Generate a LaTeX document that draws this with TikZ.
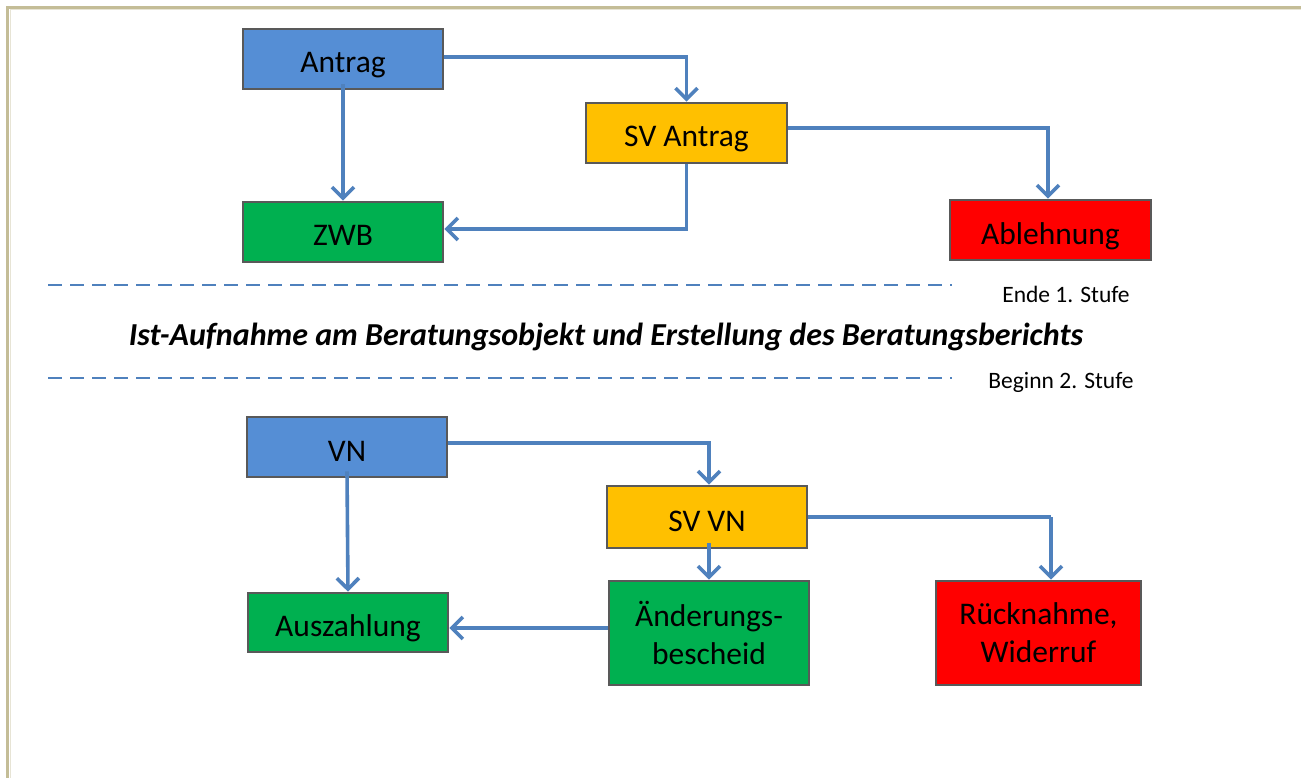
\documentclass[tikz,border=0pt]{standalone}
\usepackage{fontspec}
\setmainfont{Carlito}
\usetikzlibrary{arrows.meta,calc}
\definecolor{bblue}{HTML}{558ED5}
\definecolor{borange}{HTML}{FFC000}
\definecolor{bgreen}{HTML}{00B050}
\definecolor{bred}{HTML}{FF0000}
\definecolor{conncol}{HTML}{4F81BD}
\definecolor{edgecol}{HTML}{595959}
\definecolor{framecol}{HTML}{C4BD97}
\begin{document}
\begin{tikzpicture}[x=1pt,y=-1pt,
  box/.style={draw=edgecol,line width=2.6pt,minimum width=200pt,minimum height=60pt,
    inner sep=0pt,align=center,font=\fontsize{31.5}{38}\selectfont},
  onebox/.style={box,text height=31pt,text depth=3pt},
  conn/.style={draw=conncol,line width=3.6pt,-{Straight Barb[length=11pt,width=22pt]}},
  plain/.style={draw=conncol,line width=3.6pt},
  dashline/.style={draw=conncol,line width=2.4pt,dash pattern=on 14pt off 8pt},
  small/.style={font=\fontsize{23.5}{28}\selectfont,anchor=base},
  heading/.style={font=\fontsize{32}{38}\selectfont\bfseries\itshape,anchor=base}]
\useasboundingbox (0,0) rectangle (1301,778);
\fill[white] (0,0) rectangle (1301,778);
\draw[framecol,line width=3pt] (7.5,800) -- (7.5,7.5) -- (1320,7.5);
\draw[framecol!40,line width=1pt] (10,800) -- (10,10) -- (1320,10);

\node[onebox,fill=bblue] (antrag) at (343,59) {Antrag};
\node[onebox,fill=borange,minimum width=201pt] (svantrag) at (686.5,133) {SV Antrag};
\node[onebox,fill=bgreen] (zwb) at (343,232) {ZWB};
\node[onebox,fill=bred,minimum width=201pt] (ablehnung) at (1050.5,230) {Ablehnung};

\node[onebox,fill=bblue] (vn) at (347,447) {VN};
\node[onebox,fill=borange,minimum height=62pt] (svvn) at (707,517) {SV VN};
\node[onebox,fill=bgreen,minimum height=59pt] (ausz) at (348,622.5) {Auszahlung};
\node[box,fill=bgreen,minimum height=104pt] (aend) at (709,633) {Änderungs-\\bescheid};
\node[box,fill=bred,minimum width=205pt,minimum height=104pt] (rueck) at (1038.5,633) {Rücknahme,\\Widerruf};

\draw[conn] ([yshift=2pt]antrag.east) -| (svantrag.north);
\draw[conn] ([yshift=6pt]antrag.south) -- (zwb.north);
\draw[conn] ([yshift=5pt]svantrag.east) -| ([xshift=-2.5pt]ablehnung.north);
\draw[conn] (svantrag.south) |- ([yshift=3pt]zwb.east);

\draw[conn] ([yshift=4pt]vn.east) -| ([xshift=2pt]svvn.north);
\draw[conn] ([yshift=7pt]vn.south) -- (ausz.north);
\draw[conn] ([xshift=2pt,yshift=6pt]svvn.south) -- ([xshift=2pt]svvn.south |- aend.north);
\draw[conn] ([xshift=12.5pt]rueck.north |- svvn.east) -- ([xshift=12.5pt]rueck.north);
\draw[plain] (svvn.east) -- ([xshift=12.5pt]rueck.north |- svvn.east);
\draw[conn] ([yshift=5pt]aend.west) -- ([yshift=5pt]aend.west -| ausz.east);

\draw[dashline] (48,285) -- (952,285);
\draw[dashline] (48,378) -- (952,378);
\node[small] (ende) at (1066,302) {Ende 1. Stufe};
\node[small] (beginn) at (1061,388) {Beginn 2. Stufe};
\node[heading] (title) at (606,345) {Ist-Aufnahme am Beratungsobjekt und Erstellung des Beratungsberichts};
\end{tikzpicture}
\end{document}
